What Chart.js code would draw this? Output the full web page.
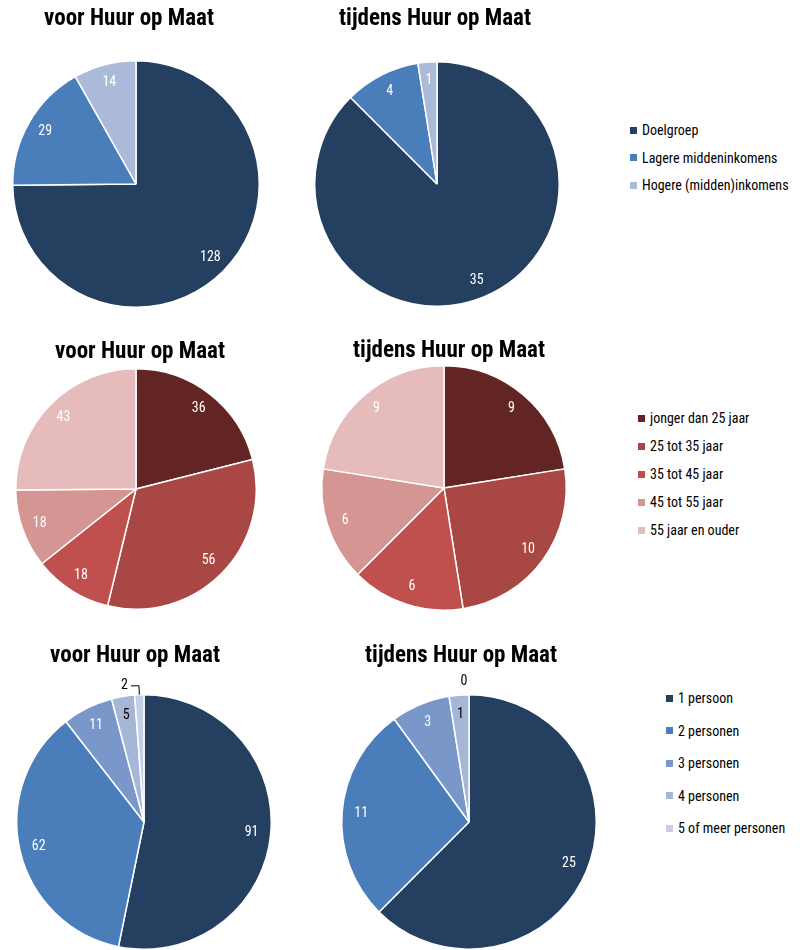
<!DOCTYPE html>
<html>
<head>
<meta charset="utf-8">
<script src="https://cdn.jsdelivr.net/npm/chart.js@4"></script>
<style>
  body { margin: 0; background: #fff; width: 800px; height: 950px; position: relative; overflow: hidden; }
  canvas { position: absolute; }
  .legend { position: absolute; font: 14px "Roboto Condensed", "Liberation Sans", sans-serif; color: #000; }
  .legend div { position: absolute; white-space: nowrap; display: flex; align-items: center; }
  .legend span.box { width: 7px; height: 7px; margin-right: 5px; display: inline-block; }
</style>
</head>
<body>

<script>
// inkomensgroepen
const inkomenLabels = ["Doelgroep", "Lagere middeninkomens", "Hogere (midden)inkomens"];
const inkomenVoor = [128, 29, 14];
const inkomenTijdens = [35, 4, 1];

// leeftijd
const leeftijdLabels = ["jonger dan 25 jaar", "25 tot 35 jaar", "35 tot 45 jaar", "45 tot 55 jaar", "55 jaar en ouder"];
const leeftijdVoor = [36, 56, 18, 18, 43];
const leeftijdTijdens = [9, 10, 6, 6, 9];

// huishoudgrootte
const huishoudLabels = ["1 persoon", "2 personen", "3 personen", "4 personen", "5 of meer personen"];
const huishoudVoor = [91, 62, 11, 5, 2];
const huishoudTijdens = [25, 11, 3, 1, 0];

const blauw3 = ["#253f61", "#4a7ebb", "#aabad8"];
const rood5 = ["#632523", "#a94744", "#c0504d", "#d49593", "#e5bcbb"];
const blauw5 = ["#253f61", "#4a7ebb", "#7a97c9", "#a6b6d6", "#c6d0e5"];

const smal = '"Roboto Condensed", "Liberation Sans", sans-serif';

// waarden in of naast de taartpunten
const waardeLabels = {
    id: "waardeLabels",
    afterLayout(chart, args, opts) {
        // titel iets opzij schuiven t.o.v. het midden van de taart
        const dx = opts.titelDx || 0;
        if (chart.titleBlock) {
            chart.titleBlock.left += dx;
            chart.titleBlock.right += dx;
        }
    },
    afterDatasetsDraw(chart, args, opts) {
        const ctx = chart.ctx;
        const meta = chart.getDatasetMeta(0);
        const values = chart.data.datasets[0].data;
        const donker = opts.donker || [];
        const buiten = opts.buiten || [];

        ctx.save();
        ctx.font = "14px " + smal;
        ctx.textBaseline = "middle";

        meta.data.forEach((arc, i) => {
            const mid = (arc.startAngle + arc.endAngle) / 2;
            const r = arc.outerRadius;
            const cos = Math.cos(mid), sin = Math.sin(mid);

            if (values[i] === 0) {
                ctx.fillStyle = "#000";
                ctx.textAlign = "center";
                ctx.fillText(values[i], arc.x - 5 + cos * (r + 13), arc.y + sin * (r + 13));
                return;
            }

            if (buiten.includes(i)) {
                const x0 = arc.x + cos * r, y0 = arc.y + sin * r;
                const x1 = arc.x + cos * (r + 9), y1 = arc.y + sin * (r + 9);
                ctx.strokeStyle = "#000";
                ctx.lineWidth = 1;
                ctx.beginPath();
                ctx.moveTo(x0, y0);
                ctx.lineTo(x1, y1);
                ctx.lineTo(x1 - 8, y1);
                ctx.stroke();
                ctx.fillStyle = "#000";
                ctx.textAlign = "right";
                ctx.fillText(values[i], x1 - 11, y1);
                return;
            }

            const d = r * 0.85;
            ctx.fillStyle = donker.includes(i) ? "#000" : "#fff";
            ctx.textAlign = "center";
            ctx.fillText(values[i], arc.x + cos * d, arc.y + sin * d);
        });
        ctx.restore();
    }
};

function maakTaart(titel, labels, values, colors, pos, labelOpts) {
    const side = 16;
    const canvas = document.createElement("canvas");
    const top = pos.titelY - 20;
    const left = pos.cx - pos.r - side;
    canvas.width = pos.r * 2 + side * 2;
    canvas.height = (pos.cy + pos.r) - top;
    canvas.style.left = left + "px";
    canvas.style.top = top + "px";
    document.body.appendChild(canvas);

    const pieTop = pos.cy - pos.r - top;
    const lineH = 23 * 1.2;

    new Chart(canvas.getContext("2d"), {
        type: "pie",
        data: {
            labels: labels,
            datasets: [{
                data: values,
                backgroundColor: colors,
                borderColor: "#fff",
                borderWidth: 1.5
            }]
        },
        options: {
            responsive: false,
            animation: false,
            plugins: {
                legend: { display: false },
                tooltip: { enabled: false },
                title: {
                    display: true,
                    text: titel,
                    color: "#000",
                    font: { family: smal, size: 23, weight: "bold" },
                    padding: { top: 21 - lineH / 2, bottom: pieTop - (21 - lineH / 2) - lineH }
                },
                waardeLabels: Object.assign({ titelDx: pos.titelDx }, labelOpts)
            }
        },
        plugins: [waardeLabels]
    });
}

function maakLegenda(labels, colors, x, y, gap) {
    const div = document.createElement("div");
    div.className = "legend";
    div.style.left = x + "px";
    div.style.top = y + "px";
    labels.forEach((l, i) => {
        const rij = document.createElement("div");
        rij.style.top = (i * gap - 9) + "px";
        rij.style.height = "18px";
        const box = document.createElement("span");
        box.className = "box";
        box.style.background = colors[i];
        rij.appendChild(box);
        rij.appendChild(document.createTextNode(l));
        div.appendChild(rij);
    });
    document.body.appendChild(div);
}

maakTaart("voor Huur op Maat", inkomenLabels, inkomenVoor, blauw3, { cx: 136, cy: 184, r: 124, titelY: 18, titelDx: -7 });
maakTaart("tijdens Huur op Maat", inkomenLabels, inkomenTijdens, blauw3, { cx: 437, cy: 184, r: 123, titelY: 18, titelDx: -2 });
maakLegenda(inkomenLabels, blauw3, 630, 130, 27.5);

maakTaart("voor Huur op Maat", leeftijdLabels, leeftijdVoor, rood5, { cx: 136, cy: 489, r: 121, titelY: 351, titelDx: 4 });
maakTaart("tijdens Huur op Maat", leeftijdLabels, leeftijdTijdens, rood5, { cx: 444, cy: 488, r: 123, titelY: 350, titelDx: 5 });
maakLegenda(leeftijdLabels, rood5, 638, 418, 28);

maakTaart("voor Huur op Maat", huishoudLabels, huishoudVoor, blauw5, { cx: 144, cy: 822, r: 128, titelY: 655, titelDx: -9 },
    { donker: [3], buiten: [4] });
maakTaart("tijdens Huur op Maat", huishoudLabels, huishoudTijdens, blauw5, { cx: 469, cy: 822, r: 128, titelY: 655, titelDx: -8 },
    { donker: [3] });
maakLegenda(huishoudLabels, blauw5, 666, 698, 32.5);
</script>
</body>
</html>
